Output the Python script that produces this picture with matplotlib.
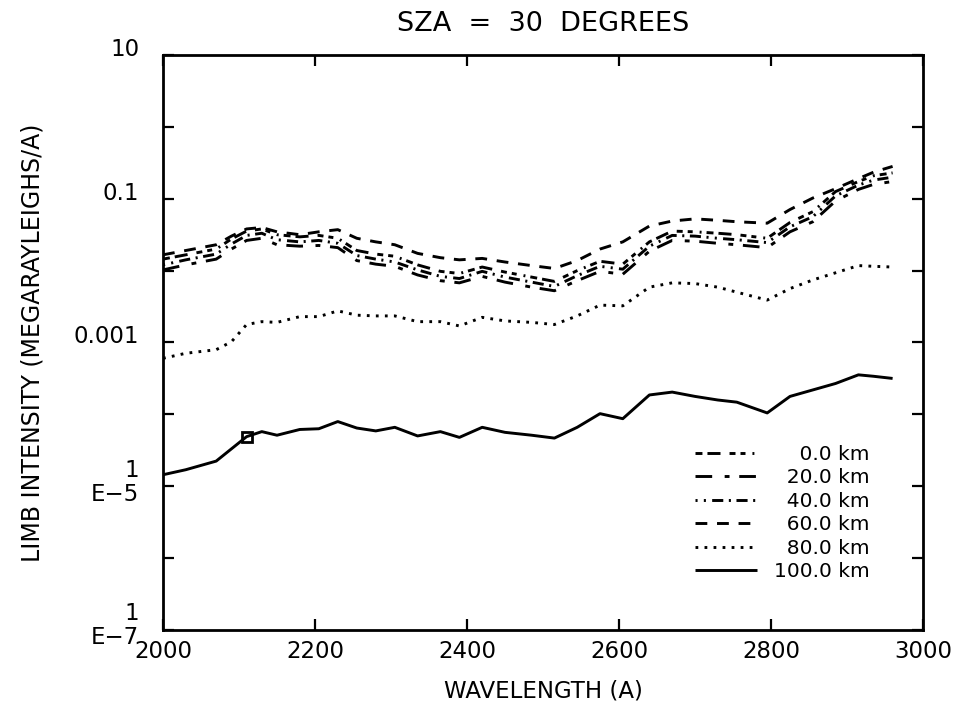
import numpy as np
import matplotlib
matplotlib.use("Agg")
import matplotlib.pyplot as plt
from matplotlib.transforms import blended_transform_factory, offset_copy

plt.rcParams["font.family"] = ["DejaVu Sans"]
plt.rcParams["lines.scale_dashes"] = False

# Wavelength grid (Angstrom)
wavelength = [2000, 2030, 2070, 2090, 2110, 2130, 2150, 2180, 2205, 2230,
              2255, 2280, 2305, 2335, 2365, 2390, 2420, 2450, 2485, 2515,
              2545, 2575, 2605, 2640, 2670, 2700, 2730, 2755, 2795, 2825,
              2855, 2885, 2915, 2935, 2960]

# log10 of limb intensity (megarayleighs / A) for each tangent height
log_i_0km = [-1.84, -1.78, -1.70, -1.56, -1.45, -1.42, -1.50, -1.53, -1.51, -1.55,
             -1.72, -1.77, -1.80, -1.92, -2.01, -2.04, -1.95, -2.02, -2.09, -2.15,
             -2.00, -1.87, -1.91, -1.60, -1.45, -1.46, -1.48, -1.50, -1.55, -1.33,
             -1.18, -0.90, -0.76, -0.68, -0.64]
log_i_20km = [-1.99, -1.92, -1.84, -1.70, -1.58, -1.55, -1.64, -1.66, -1.65, -1.68,
              -1.86, -1.91, -1.94, -2.06, -2.14, -2.17, -2.08, -2.16, -2.23, -2.28,
              -2.14, -2.01, -2.05, -1.73, -1.58, -1.59, -1.62, -1.64, -1.68, -1.46,
              -1.32, -1.03, -0.87, -0.80, -0.76]
log_i_40km = [-1.92, -1.85, -1.77, -1.63, -1.51, -1.48, -1.57, -1.60, -1.58, -1.62,
              -1.79, -1.84, -1.88, -1.99, -2.08, -2.11, -2.01, -2.09, -2.16, -2.22,
              -2.07, -1.94, -1.98, -1.66, -1.51, -1.52, -1.55, -1.57, -1.61, -1.39,
              -1.25, -0.96, -0.81, -0.74, -0.70]
log_i_60km = [-1.78, -1.72, -1.64, -1.52, -1.42, -1.40, -1.46, -1.50, -1.46, -1.43,
              -1.55, -1.60, -1.64, -1.76, -1.82, -1.85, -1.83, -1.88, -1.93, -1.97,
              -1.86, -1.70, -1.60, -1.38, -1.31, -1.28, -1.30, -1.32, -1.34, -1.15,
              -0.99, -0.86, -0.72, -0.63, -0.55]
log_i_80km = [-3.22, -3.15, -3.10, -2.99, -2.75, -2.71, -2.72, -2.64, -2.64, -2.56,
              -2.62, -2.63, -2.63, -2.71, -2.71, -2.77, -2.65, -2.70, -2.72, -2.75,
              -2.63, -2.48, -2.49, -2.23, -2.17, -2.18, -2.23, -2.30, -2.41, -2.25,
              -2.13, -2.03, -1.93, -1.94, -1.95]
log_i_100km = [-4.84, -4.77, -4.65, -4.48, -4.31, -4.24, -4.29, -4.21, -4.20, -4.10,
               -4.19, -4.23, -4.18, -4.30, -4.24, -4.32, -4.18, -4.25, -4.29, -4.33,
               -4.18, -3.99, -4.06, -3.73, -3.69, -3.75, -3.80, -3.83, -3.98, -3.75,
               -3.66, -3.57, -3.45, -3.47, -3.50]

heights = ["0.0 km", "20.0 km", "40.0 km", "60.0 km", "80.0 km", "100.0 km"]

x_ticks = [2000, 2200, 2400, 2600, 2800, 3000]
y_ticks = [1e1, 1e0, 1e-1, 1e-2, 1e-3, 1e-4, 1e-5, 1e-6, 1e-7]
y_tick_labels = {1e1: "10", 1e-1: "0.1", 1e-3: "0.001", 1e-5: "1\nE\u22125", 1e-7: "1\nE\u22127"}

styles = [
    dict(dashes=(5, 3.6, 9.4, 6.5, 4.3, 3.6, 3.6, 5, 1.4, 3.6)),
    dict(dashes=(12, 9, 3.5, 7)),
    dict(dashes=(1.5, 4.5, 1.5, 4.5, 8, 4, 1.5, 4, 8, 4)),
    dict(dashes=(8.5, 7)),
    dict(dashes=(2, 4.5)),
    dict(linestyle="-"),
]
series = [log_i_0km, log_i_20km, log_i_40km, log_i_60km, log_i_80km, log_i_100km]

W, H = 962, 711
fig = plt.figure(figsize=(W / 100, H / 100), dpi=100)
ax = fig.add_axes([163 / W, 1 - 630 / H, 760 / W, 575 / H])

wl = np.array(wavelength)
for vals, name, st in zip(series, heights, styles):
    label = "\u2007" * (8 - len(name)) + name
    ax.plot(wl, 10 ** np.array(vals), color="black", lw=2.1,
            solid_capstyle="butt", dash_capstyle="butt", label=label, **st)

# square marker on the 100 km curve
i_mark = wavelength.index(2110)
ax.plot(wl[i_mark], 10 ** log_i_100km[i_mark], marker="s", ms=7,
        mfc="none", mec="black", mew=2.0, ls="none")

ax.set_yscale("log")
ax.set_xlim(2000, 3000)
ax.set_ylim(1e-7, 1e1)
ax.set_xticks(x_ticks)
ax.set_xticklabels([str(t) for t in x_ticks], fontsize=16.5)
ax.set_yticks(y_ticks)
ax.set_yticklabels([])
ax.yaxis.set_minor_locator(matplotlib.ticker.NullLocator())
ax.tick_params(axis="both", which="major", direction="in", length=8, width=1.6,
               top=True, right=True)
ax.tick_params(axis="x", pad=7)
for sp in ax.spines.values():
    sp.set_linewidth(2.0)

trans = blended_transform_factory(ax.transAxes, ax.transData)
for val, txt in y_tick_labels.items():
    t = offset_copy(trans, fig=fig, x=-17, y=4 if "\n" not in txt else 3, units="points")
    ax.text(0, val, txt, transform=t, ha="right", va="center",
            multialignment="right", fontsize=16.5, linespacing=1.05)

ax.set_title("SZA  =  30  DEGREES", fontsize=19.5, pad=17)
ax.set_xlabel("WAVELENGTH (A)", fontsize=16.5, labelpad=12)
ax.set_ylabel("LIMB INTENSITY (MEGARAYLEIGHS/A)", fontsize=17, labelpad=82)

ax.legend(loc="upper left", bbox_to_anchor=(0.70, 0.322), frameon=False,
          fontsize=14.5, handlelength=3.1, handletextpad=0.8, labelspacing=0.22,
          borderpad=0, borderaxespad=0)

fig.savefig("out.png", dpi=100, facecolor="white")
